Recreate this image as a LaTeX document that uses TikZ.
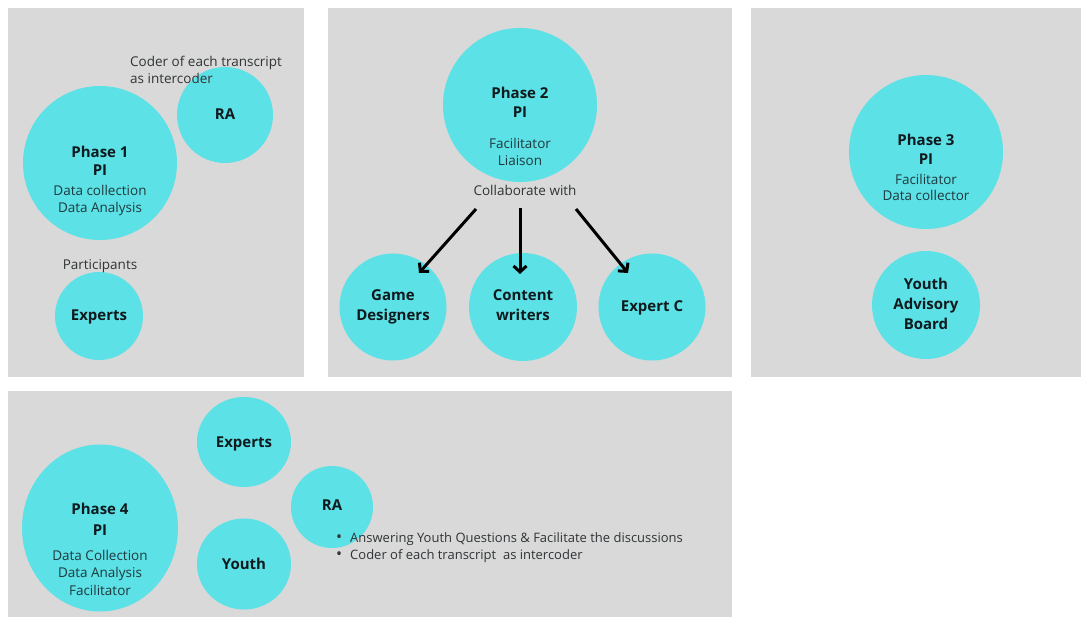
\documentclass[tikz,border=0pt]{standalone}
\usepackage{fontspec}
\setmainfont{Open Sans}
\usetikzlibrary{arrows.meta,shapes.geometric}
\definecolor{panelgray}{HTML}{D9D9D9}
\definecolor{cyanfill}{HTML}{5CE1E6}
\definecolor{ink}{HTML}{0E1A1D}
\definecolor{subink}{HTML}{1F3A3E}
\definecolor{noteink}{HTML}{303436}
\tikzset{
  panel/.style={fill=panelgray, draw=none},
  disc/.style={circle, fill=cyanfill, draw=none, inner sep=0pt, minimum size=#1},
  oval/.style 2 args={ellipse, fill=cyanfill, draw=none, inner sep=0pt, minimum width=#1, minimum height=#2},
  lbl/.style={anchor=base, inner sep=0pt, text=ink, font=\bfseries\fontsize{15}{18}\selectfont},
  sub/.style={anchor=base, inner sep=0pt, text=subink, font=\fontsize{13.5}{16}\selectfont},
  note/.style={anchor=base west, inner sep=0pt, text=noteink, font=\fontsize{13.5}{16}\selectfont},
  flow/.style={line width=3pt, draw=black, -{Straight Barb[length=6pt,width=13pt,line width=3pt]}}
}
\newcommand{\bulletmark}{\makebox[14pt][l]{\raisebox{-0.5pt}{\fontsize{16}{16}\selectfont\textbullet}}}
\begin{document}
\begin{tikzpicture}[x=1pt, y=-1pt]
\useasboundingbox[fill=white] (0,0) rectangle (1081,617);

% ---- panels ----
\fill[panel] (8,8) rectangle (304,377);
\fill[panel] (328,8) rectangle (732,377);
\fill[panel] (751,8) rectangle (1081,377);
\fill[panel] (8,391) rectangle (732,617);

% ---- Phase 1 ----
\node[disc=154pt] (p1) at (100,163) {};
\node[disc=96pt] (ra1) at (225,115) {};
\node[disc=88pt] (ex1) at (99,316) {};
\node[note] (ra1note1) at (130,67) {Coder of each transcript};
\node[note] (ra1note2) at (130,84) {as intercoder};
\node[lbl] (p1a) at (100,158) {Phase 1};
\node[lbl] (p1b) at (100,176) {PI};
\node[sub] (p1c) at (100,196) {Data collection};
\node[sub] (p1d) at (100,213) {Data Analysis};
\node[lbl] (ra1l) at (225,120) {RA};
\node[sub, text=noteink] (part) at (100,270) {Participants};
\node[lbl] (ex1l) at (99,321) {Experts};

% ---- Phase 2 ----
\node[disc=154pt] (p2) at (520,105) {};
\node[disc=107pt] (gd) at (393,307) {};
\node[disc=108pt] (cw) at (523,307) {};
\node[disc=107pt] (ec) at (652,307) {};
\node[lbl] (p2a) at (520,99) {Phase 2};
\node[lbl] (p2b) at (520,118) {PI};
\node[sub] (p2c) at (520,149) {Facilitator};
\node[sub] (p2d) at (520,166) {Liaison};
\node[sub, text=noteink] (collab) at (525,196) {Collaborate with};
\node[lbl] (gda) at (393,301) {Game};
\node[lbl] (gdb) at (393,321) {Designers};
\node[lbl] (cwa) at (523,301) {Content};
\node[lbl] (cwb) at (523,321) {writers};
\node[lbl] (ecl) at (652,312) {Expert C};
\coordinate (s1) at (476,209);
\coordinate (t1) at (419,273);
\coordinate (s2) at (520,208);
\coordinate (t2) at (520,274);
\coordinate (s3) at (576,209);
\coordinate (t3) at (628,273);
\draw[flow] (s1) -- (t1);
\draw[flow] (s2) -- (t2);
\draw[flow] (s3) -- (t3);

% ---- Phase 3 ----
\node[disc=154pt] (p3) at (926,152) {};
\node[disc=108pt] (yab) at (926,305) {};
\node[lbl] (p3a) at (926,146) {Phase 3};
\node[lbl] (p3b) at (926,165) {PI};
\node[sub] (p3c) at (926,185) {Facilitator};
\node[sub] (p3d) at (926,201) {Data collector};
\node[lbl] (yaba) at (926,290) {Youth};
\node[lbl] (yabb) at (926,310) {Advisory};
\node[lbl] (yabc) at (926,330) {Board};

% ---- Phase 4 ----
\node[oval={156pt}{167pt}] (p4) at (100,528) {};
\node[oval={94pt}{90pt}] (ex4) at (244,442) {};
\node[oval={94pt}{91pt}] (yo4) at (244,564) {};
\node[oval={82pt}{82pt}] (ra4) at (332,507) {};
\node[lbl] (p4a) at (100,514) {Phase 4};
\node[lbl] (p4b) at (100,535) {PI};
\node[sub] (p4c) at (100,560) {Data Collection};
\node[sub] (p4d) at (100,577) {Data Analysis};
\node[sub] (p4e) at (100,595) {Facilitator};
\node[lbl] (ex4l) at (244,447) {Experts};
\node[lbl] (yo4l) at (244,569) {Youth};
\node[lbl] (ra4l) at (332,510) {RA};
\node[note, font=\fontsize{13}{16}\selectfont] (b1) at (336,542) {\bulletmark Answering Youth Questions \& Facilitate the discussions};
\node[note, font=\fontsize{13}{16}\selectfont] (b2) at (336,559) {\bulletmark Coder of each transcript\ \ as intercoder};
\end{tikzpicture}
\end{document}
